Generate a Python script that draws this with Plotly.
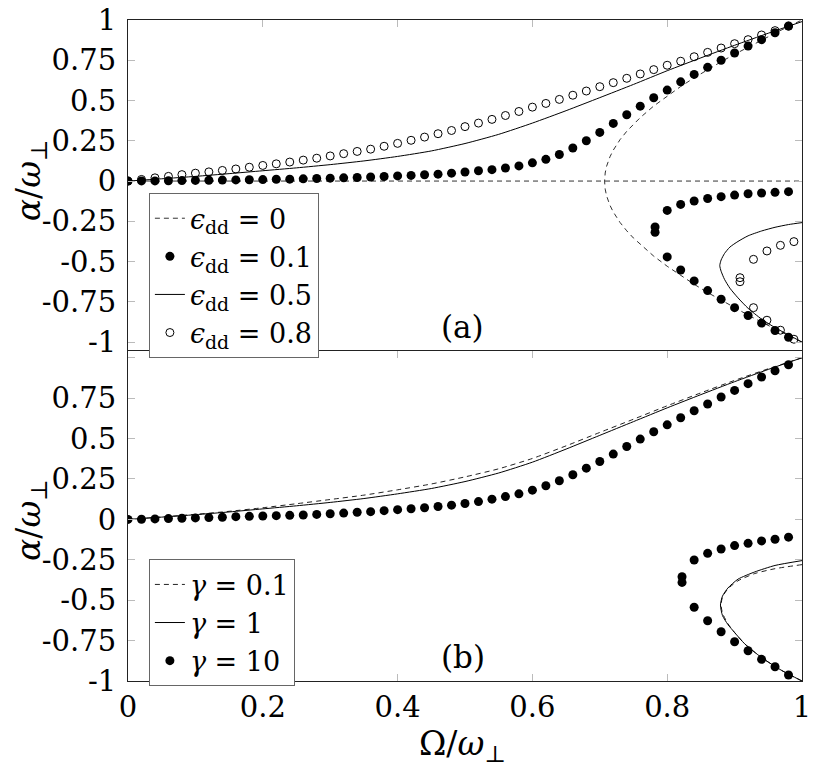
import plotly.graph_objects as go

# ---------------- data: panel (a) ----------------
# eps_dd = 0 (dashed): zero branch and the two symmetric branches
e0_zero_x = [0.0, 0.2, 0.4, 0.6, 0.8, 1.0]
e0_zero_y = [0.0, 0.0, 0.0, 0.0, 0.0, 0.0]
e0_fork_x = [1.0, 0.98, 0.96, 0.94, 0.92, 0.90, 0.88, 0.86, 0.84, 0.82, 0.80, 0.78, 0.76, 0.75, 0.74,
             0.73, 0.72, 0.715, 0.71, 0.708, 0.7071,
             0.708, 0.71, 0.715, 0.72, 0.73, 0.74, 0.75, 0.76, 0.78, 0.80, 0.82, 0.84, 0.86, 0.88,
             0.90, 0.92, 0.94, 0.96, 0.98, 1.0]
e0_fork_y = [-1.0, -0.96, -0.918, -0.876, -0.832, -0.787, -0.741, -0.692, -0.641, -0.587, -0.529,
             -0.466, -0.394, -0.354, -0.309, -0.257, -0.192, -0.150, -0.091, -0.050, 0.0,
             0.050, 0.091, 0.150, 0.192, 0.257, 0.309, 0.354, 0.394, 0.466, 0.529, 0.587, 0.641,
             0.692, 0.741, 0.787, 0.832, 0.876, 0.918, 0.96, 1.0]

grid_x = [0.00, 0.02, 0.04, 0.06, 0.08, 0.10, 0.12, 0.14, 0.16, 0.18, 0.20, 0.22, 0.24, 0.26, 0.28,
          0.30, 0.32, 0.34, 0.36, 0.38, 0.40, 0.42, 0.44, 0.46, 0.48, 0.50, 0.52, 0.54, 0.56, 0.58,
          0.60, 0.62, 0.64, 0.66, 0.68, 0.70, 0.72, 0.74, 0.76, 0.78, 0.80, 0.82, 0.84, 0.86, 0.88,
          0.90, 0.92, 0.94, 0.96, 0.98]

# eps_dd = 0.1 (filled dots)
e1_up_y = [0.000, 0.001, 0.001, 0.002, 0.003, 0.004, 0.005, 0.006, 0.007, 0.008, 0.009, 0.011,
           0.012, 0.014, 0.016, 0.018, 0.020, 0.022, 0.025, 0.028, 0.032, 0.035, 0.039, 0.043,
           0.049, 0.056, 0.064, 0.071, 0.081, 0.094, 0.113, 0.135, 0.165, 0.205, 0.250, 0.302,
           0.358, 0.412, 0.465, 0.517, 0.565, 0.616, 0.662, 0.706, 0.750, 0.795, 0.838, 0.878,
           0.921, 0.962]
e1_low_x = [0.782, 0.80, 0.82, 0.84, 0.86, 0.88, 0.90, 0.92, 0.94, 0.96, 0.98]
e1_mid_y = [-0.285, -0.182, -0.145, -0.124, -0.108, -0.097, -0.087, -0.079, -0.074, -0.070, -0.066]
e1_bot_y = [-0.318, -0.471, -0.552, -0.620, -0.680, -0.734, -0.786, -0.835, -0.882, -0.928, -0.970]

# eps_dd = 0.5 (solid)
e5_up_x = [0.0, 0.05, 0.1, 0.15, 0.2, 0.25, 0.3, 0.35, 0.4, 0.45, 0.5, 0.55, 0.6, 0.65, 0.7, 0.75,
           0.8, 0.85, 0.9, 0.95, 1.0]
e5_up_y = [0.0, 0.014, 0.029, 0.046, 0.064, 0.082, 0.102, 0.125, 0.153, 0.187, 0.233, 0.290, 0.360,
           0.437, 0.518, 0.600, 0.685, 0.765, 0.843, 0.918, 0.990]
e5_low_x = [1.0, 0.98, 0.96, 0.94, 0.92, 0.905, 0.893, 0.885, 0.88, 0.878, 0.88, 0.885, 0.893, 0.905,
            0.92, 0.94, 0.96, 0.98, 1.0]
e5_low_y = [-0.258, -0.270, -0.287, -0.310, -0.340, -0.375, -0.410, -0.450, -0.490, -0.525, -0.560,
            -0.610, -0.665, -0.725, -0.790, -0.857, -0.910, -0.955, -1.0]

# eps_dd = 0.8 (open circles)
e8_up_y = [0.000, 0.010, 0.020, 0.029, 0.040, 0.049, 0.057, 0.066, 0.075, 0.086, 0.097, 0.107,
           0.118, 0.130, 0.142, 0.156, 0.170, 0.184, 0.198, 0.216, 0.234, 0.253, 0.273, 0.294,
           0.314, 0.338, 0.360, 0.383, 0.407, 0.432, 0.459, 0.482, 0.507, 0.533, 0.559, 0.586,
           0.611, 0.638, 0.665, 0.692, 0.719, 0.744, 0.772, 0.799, 0.826, 0.853, 0.878, 0.907,
           0.934, 0.962]
e8_low_x = [0.908, 0.928, 0.948, 0.968, 0.988]
e8_mid_y = [-0.600, -0.486, -0.434, -0.399, -0.376]
e8_bot_y = [-0.625, -0.786, -0.864, -0.926, -0.982]

# ---------------- data: panel (b) ----------------
g01_up_x = [0.0, 0.05, 0.1, 0.15, 0.2, 0.25, 0.3, 0.35, 0.4, 0.45, 0.5, 0.55, 0.6, 0.65, 0.7, 0.75,
            0.8, 0.85, 0.9, 0.95, 1.0]
g01_up_y = [0.0, 0.015, 0.031, 0.050, 0.072, 0.097, 0.123, 0.150, 0.183, 0.219, 0.263, 0.313, 0.377,
            0.455, 0.538, 0.620, 0.703, 0.783, 0.860, 0.932, 1.0]
g01_low_x = [1.0, 0.96, 0.93, 0.905, 0.89, 0.882, 0.88, 0.882, 0.89, 0.90, 0.915, 0.94, 0.97, 1.0]
g01_low_y = [-0.280, -0.305, -0.335, -0.380, -0.430, -0.480, -0.530, -0.580, -0.645, -0.700,
             -0.770, -0.855, -0.935, -1.0]

g1_up_x = [0.0, 0.05, 0.1, 0.15, 0.2, 0.25, 0.3, 0.35, 0.4, 0.45, 0.5, 0.55, 0.6, 0.65, 0.7, 0.75,
           0.8, 0.85, 0.9, 0.95, 1.0]
g1_up_y = [0.0, 0.014, 0.029, 0.046, 0.065, 0.084, 0.105, 0.129, 0.158, 0.191, 0.234, 0.287, 0.354,
           0.435, 0.520, 0.605, 0.690, 0.772, 0.852, 0.928, 1.0]
g1_low_x = [1.0, 0.96, 0.93, 0.905, 0.89, 0.882, 0.879, 0.882, 0.89, 0.90, 0.915, 0.94, 0.97, 1.0]
g1_low_y = [-0.255, -0.285, -0.325, -0.370, -0.425, -0.475, -0.530, -0.595, -0.650, -0.700,
            -0.770, -0.855, -0.935, -1.0]

g10_up_y = [0.000, 0.001, 0.003, 0.005, 0.007, 0.009, 0.011, 0.013, 0.017, 0.019, 0.021, 0.023,
            0.025, 0.027, 0.031, 0.035, 0.039, 0.044, 0.048, 0.054, 0.060, 0.066, 0.072, 0.080,
            0.088, 0.098, 0.110, 0.125, 0.141, 0.158, 0.181, 0.208, 0.239, 0.276, 0.317, 0.358,
            0.404, 0.451, 0.497, 0.542, 0.585, 0.629, 0.672, 0.714, 0.757, 0.798, 0.840, 0.881,
            0.920, 0.957]
g10_low_x = [0.822, 0.84, 0.86, 0.88, 0.90, 0.92, 0.94, 0.96, 0.98]
g10_mid_y = [-0.355, -0.251, -0.210, -0.183, -0.162, -0.148, -0.133, -0.123, -0.110]
g10_bot_y = [-0.390, -0.544, -0.627, -0.695, -0.757, -0.813, -0.866, -0.912, -0.963]

x_ticks = [0, 0.2, 0.4, 0.6, 0.8, 1]
x_ticktext = ["0", "0.2", "0.4", "0.6", "0.8", "1"]
ya_ticks = [1, 0.75, 0.5, 0.25, 0, -0.25, -0.5, -0.75, -1]
ya_ticktext = ["1", "0.75", "0.5", "0.25", "0", "-0.25", "-0.5", "-0.75", "-1"]
yb_ticks = [1, 0.75, 0.5, 0.25, 0, -0.25, -0.5, -0.75, -1]
yb_ticktext = [" ", "0.75", "0.5", "0.25", "0", "-0.25", "-0.5", "-0.75", "-1"]


def join(*branches):
    xs, ys = [], []
    for i, (bx, by) in enumerate(branches):
        if i:
            xs.append(None)
            ys.append(None)
        xs += list(bx)
        ys += list(by)
    return xs, ys


FONT = "DejaVu Serif"
DOT = 9
OPEN = 8
LINE = dict(shape="spline", smoothing=0.6)

fig = go.Figure()

# panel (a)
x, y = join((e0_zero_x, e0_zero_y), (e0_fork_x, e0_fork_y))
fig.add_trace(go.Scatter(x=x, y=y, mode="lines", name="<i>ϵ</i><sub>dd</sub> = 0",
                         line=dict(color="#333", width=1, dash="5px,4px"),
                         xaxis="x", yaxis="y", legend="legend"))
x, y = join((grid_x, e1_up_y), (e1_low_x, e1_mid_y), (e1_low_x, e1_bot_y))
fig.add_trace(go.Scatter(x=x, y=y, mode="markers", name="<i>ϵ</i><sub>dd</sub> = 0.1",
                         marker=dict(color="black", size=DOT, symbol="circle"),
                         xaxis="x", yaxis="y", legend="legend"))
x, y = join((e5_up_x, e5_up_y), (e5_low_x, e5_low_y))
fig.add_trace(go.Scatter(x=x, y=y, mode="lines", name="<i>ϵ</i><sub>dd</sub> = 0.5",
                         line=dict(color="black", width=1, **LINE),
                         xaxis="x", yaxis="y", legend="legend"))
x, y = join((grid_x, e8_up_y), (e8_low_x, e8_mid_y), (e8_low_x, e8_bot_y))
fig.add_trace(go.Scatter(x=x, y=y, mode="markers", name="<i>ϵ</i><sub>dd</sub> = 0.8",
                         marker=dict(color="black", size=OPEN, symbol="circle-open",
                                     line=dict(width=1, color="black")),
                         xaxis="x", yaxis="y", legend="legend"))

# panel (b)
x, y = join((g01_up_x, g01_up_y), (g01_low_x, g01_low_y))
fig.add_trace(go.Scatter(x=x, y=y, mode="lines", name="<i>γ</i> = 0.1",
                         line=dict(color="#222", width=1, dash="5px,4px", **LINE),
                         xaxis="x2", yaxis="y2", legend="legend2"))
x, y = join((g1_up_x, g1_up_y), (g1_low_x, g1_low_y))
fig.add_trace(go.Scatter(x=x, y=y, mode="lines", name="<i>γ</i> = 1",
                         line=dict(color="black", width=1, **LINE),
                         xaxis="x2", yaxis="y2", legend="legend2"))
x, y = join((grid_x, g10_up_y), (g10_low_x, g10_mid_y), (g10_low_x, g10_bot_y))
fig.add_trace(go.Scatter(x=x, y=y, mode="markers", name="<i>γ</i> = 10",
                         marker=dict(color="black", size=DOT, symbol="circle"),
                         xaxis="x2", yaxis="y2", legend="legend2"))

axis_common = dict(showline=True, linecolor="#222", linewidth=1, mirror="ticks",
                   ticks="inside", ticklen=7, tickcolor="#bbb", tickwidth=1,
                   showgrid=False, zeroline=False, automargin=False,
                   tickfont=dict(family=FONT, size=29, color="black"))

legend_common = dict(bgcolor="white", bordercolor="#666", borderwidth=1,
                     font=dict(family=FONT, size=27, color="black"),
                     xanchor="left", yanchor="top", itemwidth=30,
                     tracegroupgap=0)

fig.update_layout(
    template="none",
    width=818, height=770,
    margin=dict(l=128, r=16, t=20, b=89, autoexpand=False),
    paper_bgcolor="white", plot_bgcolor="white",
    font=dict(family=FONT, color="black"),
    xaxis=dict(axis_common, domain=[0, 1], range=[0, 1], anchor="y", side="top", mirror=False,
               tickvals=x_ticks, ticktext=x_ticktext, showticklabels=False),
    yaxis=dict(axis_common, domain=[0.5, 1], range=[-1.052, 1], anchor="x",
               tickvals=ya_ticks, ticktext=ya_ticktext, ticklabelstandoff=5),
    xaxis2=dict(axis_common, domain=[0, 1], range=[0, 1], anchor="y2",
                tickvals=x_ticks, ticktext=x_ticktext, ticklabelstandoff=0),
    yaxis2=dict(axis_common, domain=[0, 0.5], range=[-1, 1.045], anchor="x2",
                tickvals=yb_ticks, ticktext=yb_ticktext, ticklabelstandoff=5),
    legend=dict(legend_common, x=0.031, y=0.738),
    legend2=dict(legend_common, x=0.031, y=0.184),
    showlegend=True,
)

title_font = dict(family=FONT, size=33, color="black")
fig.add_annotation(text="<i>α</i>/<i>ω</i><sub>⊥</sub>", xref="paper", yref="paper",
                   x=-0.1445, y=0.757, textangle=-90, showarrow=False,
                   xanchor="center", yanchor="middle", font=title_font)
fig.add_annotation(text="<i>α</i>/<i>ω</i><sub>⊥</sub>", xref="paper", yref="paper",
                   x=-0.1445, y=0.243, textangle=-90, showarrow=False,
                   xanchor="center", yanchor="middle", font=title_font)
fig.add_annotation(text="Ω/<i>ω</i><sub>⊥</sub>", xref="paper", yref="paper",
                   x=0.497, y=-0.097, showarrow=False,
                   xanchor="center", yanchor="middle", font=title_font)
fig.add_annotation(text="(a)", xref="x", yref="y", x=0.497, y=-0.905, showarrow=False,
                   xanchor="center", yanchor="middle", font=dict(family=FONT, size=31, color="black"))
fig.add_annotation(text="(b)", xref="x2", yref="y2", x=0.497, y=-0.852, showarrow=False,
                   xanchor="center", yanchor="middle", font=dict(family=FONT, size=31, color="black"))

fig.write_html("out.html")
